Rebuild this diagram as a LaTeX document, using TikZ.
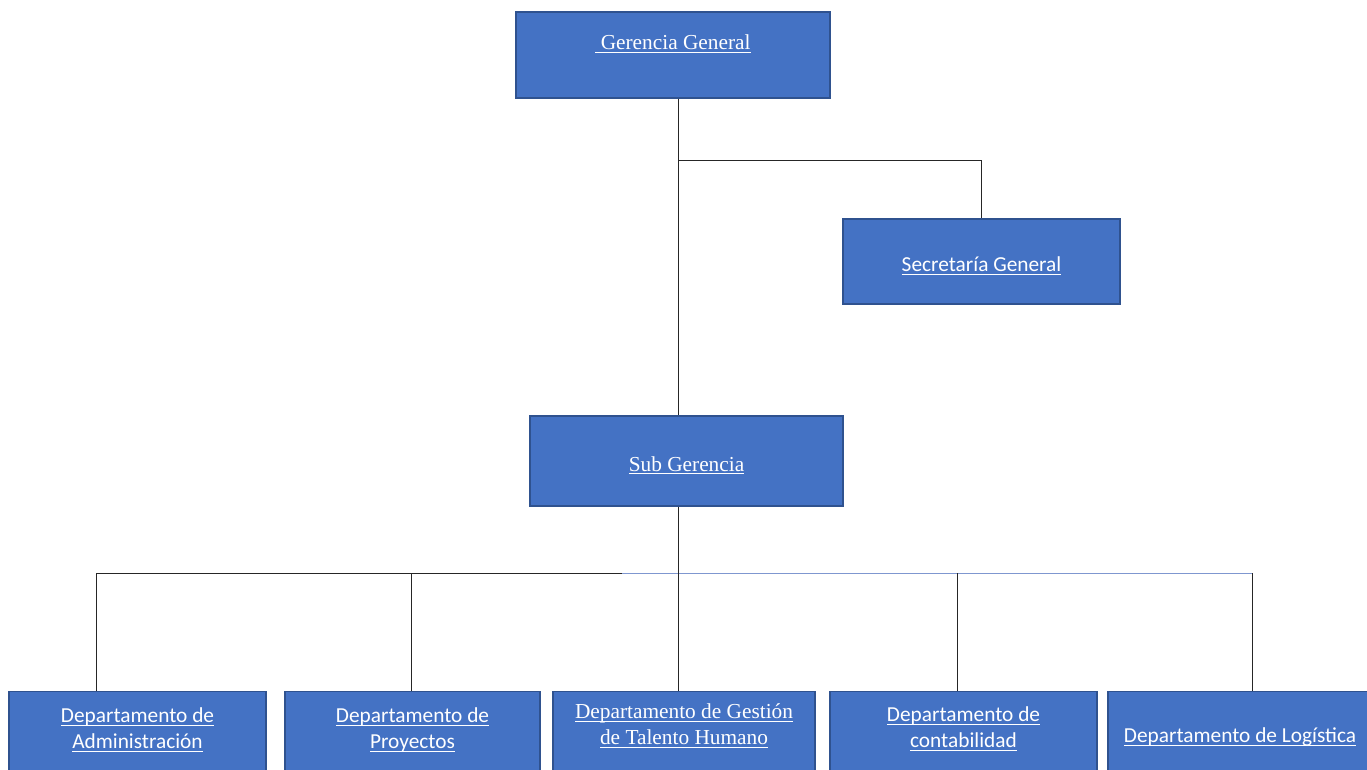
\documentclass[tikz,border=0pt]{standalone}
\usepackage{fontspec}
\setmainfont{Liberation Serif}
\newfontfamily\calibri{Carlito}
\newcommand\subrayar[1]{\setbox0\hbox{#1}\makebox[0pt][l]{\smash{\rule[-2.6pt]{\wd0}{0.75pt}}}\box0}
\definecolor{cajaazul}{HTML}{4472C4}
\definecolor{bordeazul}{HTML}{2F528F}
\definecolor{lineaazul}{HTML}{7F97D0}
\tikzstyle{unidad} = [draw=bordeazul, line width=1pt, fill=cajaazul, text=white,
    align=center, inner sep=2pt, font=\fontsize{16pt}{19.5pt}\selectfont]
\tikzstyle{unidadsans} = [unidad, font=\calibri\fontsize{16pt}{19.5pt}\selectfont]
\tikzstyle{enlace} = [black!85, line width=0.6pt]

\begin{document}
\begin{tikzpicture}[x=0.75pt, y=-0.75pt]
  \useasboundingbox (0,0) rectangle (1367,769);
  \node [unidad, minimum width=235.5pt, minimum height=64.5pt] (gg) at (673,55) {\subrayar{~Gerencia General}\\\mbox{}};
  \node [unidadsans, minimum width=207.75pt, minimum height=63.75pt, text height=15pt, text depth=0pt] (sec) at (981.5,261.5) {\subrayar{Secretaría General}};
  \node [unidad, minimum width=234.75pt, minimum height=67.5pt, text height=15pt, text depth=0pt] (sub) at (686.5,461) {\subrayar{Sub Gerencia}};
  \node [unidadsans, anchor=north, minimum width=192.75pt, minimum height=73.5pt] (dadm) at (137.5,691) {\subrayar{Departamento de}\\\subrayar{Administración}\\\mbox{}};
  \node [unidadsans, anchor=north, minimum width=191.25pt, minimum height=73.5pt] (dproy) at (412.5,691) {\subrayar{Departamento de}\\\subrayar{Proyectos}\\\mbox{}};
  \node [unidad, anchor=north, minimum width=196.5pt, minimum height=67.5pt] (dtal) at (684,691) {\subrayar{Departamento de Gestión}\\\subrayar{de Talento Humano}\\\mbox{}};
  \node [unidadsans, anchor=north, minimum width=200.25pt, minimum height=72pt] (dcont) at (963.5,691) {\subrayar{Departamento de}\\\subrayar{contabilidad}\\\mbox{}};
  \node [unidadsans, anchor=north, minimum width=198pt, minimum height=84pt] (dlog) at (1240,691) {\subrayar{Departamento de Logística}\\\mbox{}};
  \coordinate (r1) at (678,160);
  \coordinate (r2) at (678,573);
  \coordinate (b1) at (96,573);
  \coordinate (b2) at (411,573);
  \coordinate (bm) at (622,573);
  \coordinate (b3) at (957,573);
  \coordinate (b4) at (1252,573);
  \draw [enlace] (gg.south -| r1) -- (sub.north -| r1);
  \draw [enlace] (r1) -| (sec.north);
  \draw [enlace] (b1) -- (bm);
  \draw [enlace, lineaazul] (bm) -- (b4);
  \draw [enlace] (sub.south -| r2) -- (dtal.north -| r2);
  \draw [enlace] (b1) -- (b1 |- dadm.north);
  \draw [enlace] (b2) -- (b2 |- dproy.north);
  \draw [enlace] (b3) -- (b3 |- dcont.north);
  \draw [enlace] (b4) -- (b4 |- dlog.north);
\end{tikzpicture}
\end{document}
